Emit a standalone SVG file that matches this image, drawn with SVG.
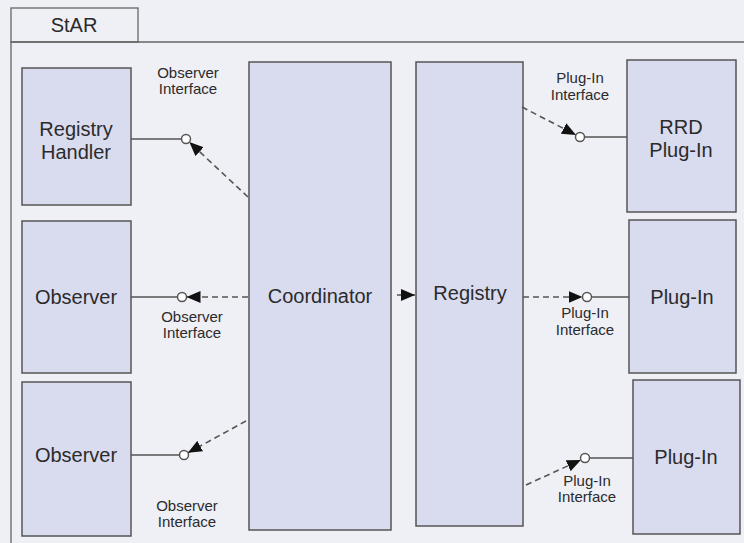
<svg xmlns="http://www.w3.org/2000/svg" width="744" height="543" viewBox="0 0 744 543">
<defs>
<marker id="arr" markerUnits="userSpaceOnUse" markerWidth="15" markerHeight="12" refX="14" refY="6" orient="auto">
<path d="M0,0 L14,6 L0,12 z" fill="#111" stroke="none"/>
</marker>
<style>
.box{fill:#d9dcef;stroke:#555;stroke-width:1.5}
.lbl{font-family:"Liberation Sans",Arial,sans-serif;font-size:20px;fill:#2b2b2b;text-anchor:middle}
.sm{font-family:"Liberation Sans",Arial,sans-serif;font-size:15px;fill:#2b2b2b;text-anchor:middle}
.dash{stroke:#555;stroke-width:1.6;stroke-dasharray:6 4;fill:none}
.sol{stroke:#555;stroke-width:1.5;fill:none}
.itf{fill:#fff;stroke:#555;stroke-width:1.5}
</style>
</defs>
<rect width="744" height="543" fill="#efeff6"/>
<g id="frame">
<rect x="11" y="8" width="127" height="34" fill="#efeff6" stroke="#666" stroke-width="1.3"/>
<text class="lbl" x="74" y="32">StAR</text>
<path d="M744,42 H11 V543" fill="none" stroke="#666" stroke-width="1.3"/>
</g>
<g id="registry-handler">
<rect class="box" x="22" y="68" width="109" height="137"/>
<text class="lbl" x="76" y="136">Registry</text>
<text class="lbl" x="76" y="159">Handler</text>
</g>
<g id="observer1">
<rect class="box" x="22" y="221" width="109" height="152"/>
<text class="lbl" x="76" y="304">Observer</text>
</g>
<g id="observer2">
<rect class="box" x="22" y="382" width="109" height="154"/>
<text class="lbl" x="76" y="462">Observer</text>
</g>
<g id="coordinator">
<rect class="box" x="249" y="62" width="142" height="468"/>
<text class="lbl" x="320" y="303">Coordinator</text>
</g>
<g id="registry">
<rect class="box" x="416" y="62" width="107" height="464"/>
<text class="lbl" x="470" y="300">Registry</text>
</g>
<g id="rrd-plugin">
<rect class="box" x="627" y="60" width="109" height="152"/>
<text class="lbl" x="681" y="134">RRD</text>
<text class="lbl" x="681" y="157">Plug-In</text>
</g>
<g id="plugin1">
<rect class="box" x="629" y="220" width="107" height="153"/>
<text class="lbl" x="682" y="304">Plug-In</text>
</g>
<g id="plugin2">
<rect class="box" x="633" y="380" width="107" height="154"/>
<text class="lbl" x="686" y="464">Plug-In</text>
</g>
<g id="connectors">
<line class="sol" x1="131" y1="139" x2="181.5" y2="139"/>
<line class="sol" x1="131" y1="297" x2="177.5" y2="297"/>
<line class="sol" x1="131" y1="455" x2="179.5" y2="455"/>
<line class="sol" x1="584.5" y1="137" x2="627" y2="137"/>
<line class="sol" x1="591.5" y1="297" x2="629" y2="297"/>
<line class="sol" x1="589.5" y1="458" x2="633" y2="458"/>
<line class="dash" x1="248" y1="197" x2="189.3" y2="142.1" marker-end="url(#arr)"/>
<line class="dash" x1="248" y1="297" x2="186.5" y2="297" marker-end="url(#arr)"/>
<line class="dash" x1="246" y1="421" x2="187.9" y2="452.8" marker-end="url(#arr)"/>
<line class="sol" x1="397" y1="295" x2="415" y2="295" marker-end="url(#arr)"/>
<line class="dash" x1="522" y1="107" x2="576" y2="134.9" marker-end="url(#arr)"/>
<line class="dash" x1="523" y1="297" x2="582.5" y2="297" marker-end="url(#arr)"/>
<line class="dash" x1="526" y1="485" x2="580.9" y2="459.9" marker-end="url(#arr)"/>
<circle class="itf" cx="186" cy="139" r="4.5"/>
<circle class="itf" cx="182" cy="297" r="4.5"/>
<circle class="itf" cx="184" cy="455" r="4.5"/>
<circle class="itf" cx="580" cy="137" r="4.5"/>
<circle class="itf" cx="587" cy="297" r="4.5"/>
<circle class="itf" cx="585" cy="458" r="4.5"/>
</g>
<g id="labels">
<text class="sm" x="188" y="78">Observer</text>
<text class="sm" x="188" y="94">Interface</text>
<text class="sm" x="192" y="322">Observer</text>
<text class="sm" x="192" y="338">Interface</text>
<text class="sm" x="187" y="511">Observer</text>
<text class="sm" x="187" y="527">Interface</text>
<text class="sm" x="580" y="83">Plug-In</text>
<text class="sm" x="580" y="100">Interface</text>
<text class="sm" x="585" y="318">Plug-In</text>
<text class="sm" x="585" y="335">Interface</text>
<text class="sm" x="587" y="486">Plug-In</text>
<text class="sm" x="587" y="502">Interface</text>
</g>
</svg>
